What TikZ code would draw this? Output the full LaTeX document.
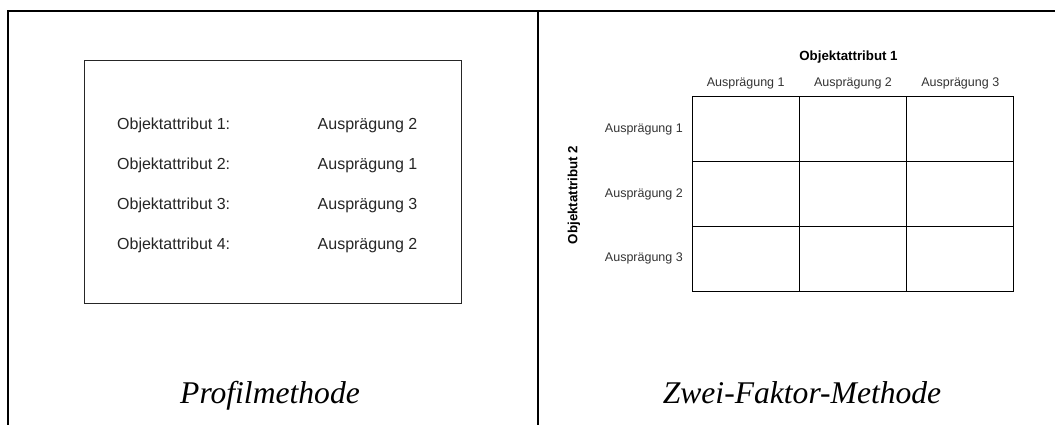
\documentclass[tikz,border=0pt]{standalone}
\usepackage{fontspec}
\usepackage{tikz}

\newfontfamily\attrfont{Liberation Sans}
\newfontfamily\capfont{Liberation Serif}

\tikzset{
	frameline/.style={line width=2pt, line join=miter},
	listtext/.style={inner sep=0pt, font=\attrfont\fontsize{16}{19}\selectfont, text=black!85},
	smalllabel/.style={inner sep=0pt, font=\attrfont\fontsize{12.5}{15}\selectfont, text=black!80},
	headlabel/.style={inner sep=0pt, font=\attrfont\bfseries\fontsize{13.3}{16}\selectfont},
	methodcaption/.style={inner sep=0pt, font=\capfont\itshape\fontsize{31.6}{36}\selectfont},
	cell/.style={rectangle, draw, line width=1pt, minimum width=107.3pt, minimum height=64.7pt, inner sep=0pt}
}

\begin{document}
\begin{tikzpicture}[x=1pt,y=-1pt]
		
		\useasboundingbox (0,0) rectangle (1055,425);
		
		% Frame
		
		\coordinate (frameBL) at (8,425);
		\coordinate (frameTL) at (8,11);
		\coordinate (frameTR) at (1055,11);
		\coordinate (midTop) at (538,11);
		\coordinate (midBottom) at (538,425);
		
		\draw[frameline] (frameBL) -- (frameTL) -- (frameTR);
		\draw[frameline] (midTop) -- (midBottom);
		
		% Profilmethode
		
		\node[rectangle, draw=black!85, line width=1pt, minimum width=377pt, minimum height=242pt] 
		(profileBox) at (272.5,182) {};
		
		\node[listtext, anchor=base west] (attr1) at (117,129.5) {Objektattribut 1:};
		\node[listtext, anchor=base west] (attr2) at (117,169) {Objektattribut 2:};
		\node[listtext, anchor=base west] (attr3) at (117,209) {Objektattribut 3:};
		\node[listtext, anchor=base west] (attr4) at (117,249) {Objektattribut 4:};
		
		\node[listtext, anchor=base west] (level1) at (317.5,129.5) {Ausprägung 2};
		\node[listtext, anchor=base west] (level2) at (317.5,169) {Ausprägung 1};
		\node[listtext, anchor=base west] (level3) at (317.5,209) {Ausprägung 3};
		\node[listtext, anchor=base west] (level4) at (317.5,249) {Ausprägung 2};
		
		\node[methodcaption, anchor=base] (caption1) at (270,403) {Profilmethode};
		
		% Zwei-Faktor-Methode
		
		\node[cell] (cell11) at (745.7,129.3) {};
		\node[cell] (cell12) at (853,129.3) {};
		\node[cell] (cell13) at (960.3,129.3) {};
		
		\node[cell] (cell21) at (745.7,194) {};
		\node[cell] (cell22) at (853,194) {};
		\node[cell] (cell23) at (960.3,194) {};
		
		\node[cell] (cell31) at (745.7,258.7) {};
		\node[cell] (cell32) at (853,258.7) {};
		\node[cell] (cell33) at (960.3,258.7) {};
		
		\node[smalllabel, above of=cell11, node distance=46pt] (colLevel1) {Ausprägung 1};
		\node[smalllabel, above of=cell12, node distance=46pt] (colLevel2) {Ausprägung 2};
		\node[smalllabel, above of=cell13, node distance=46pt] (colLevel3) {Ausprägung 3};
		
		\node[smalllabel, anchor=east] (rowLevel1) at (683,129.3) {Ausprägung 1};
		\node[smalllabel, anchor=east] (rowLevel2) at (683,194) {Ausprägung 2};
		\node[smalllabel, anchor=east] (rowLevel3) at (683,258.7) {Ausprägung 3};
		
		\node[headlabel] (attrTop) at (848.5,57) {Objektattribut 1};
		\node[headlabel, rotate=90] (attrSide) at (574,195) {Objektattribut 2};
		
		\node[methodcaption, anchor=base] (caption2) at (802,403) {Zwei-Faktor-Methode};
		
	\end{tikzpicture}
\end{document}
